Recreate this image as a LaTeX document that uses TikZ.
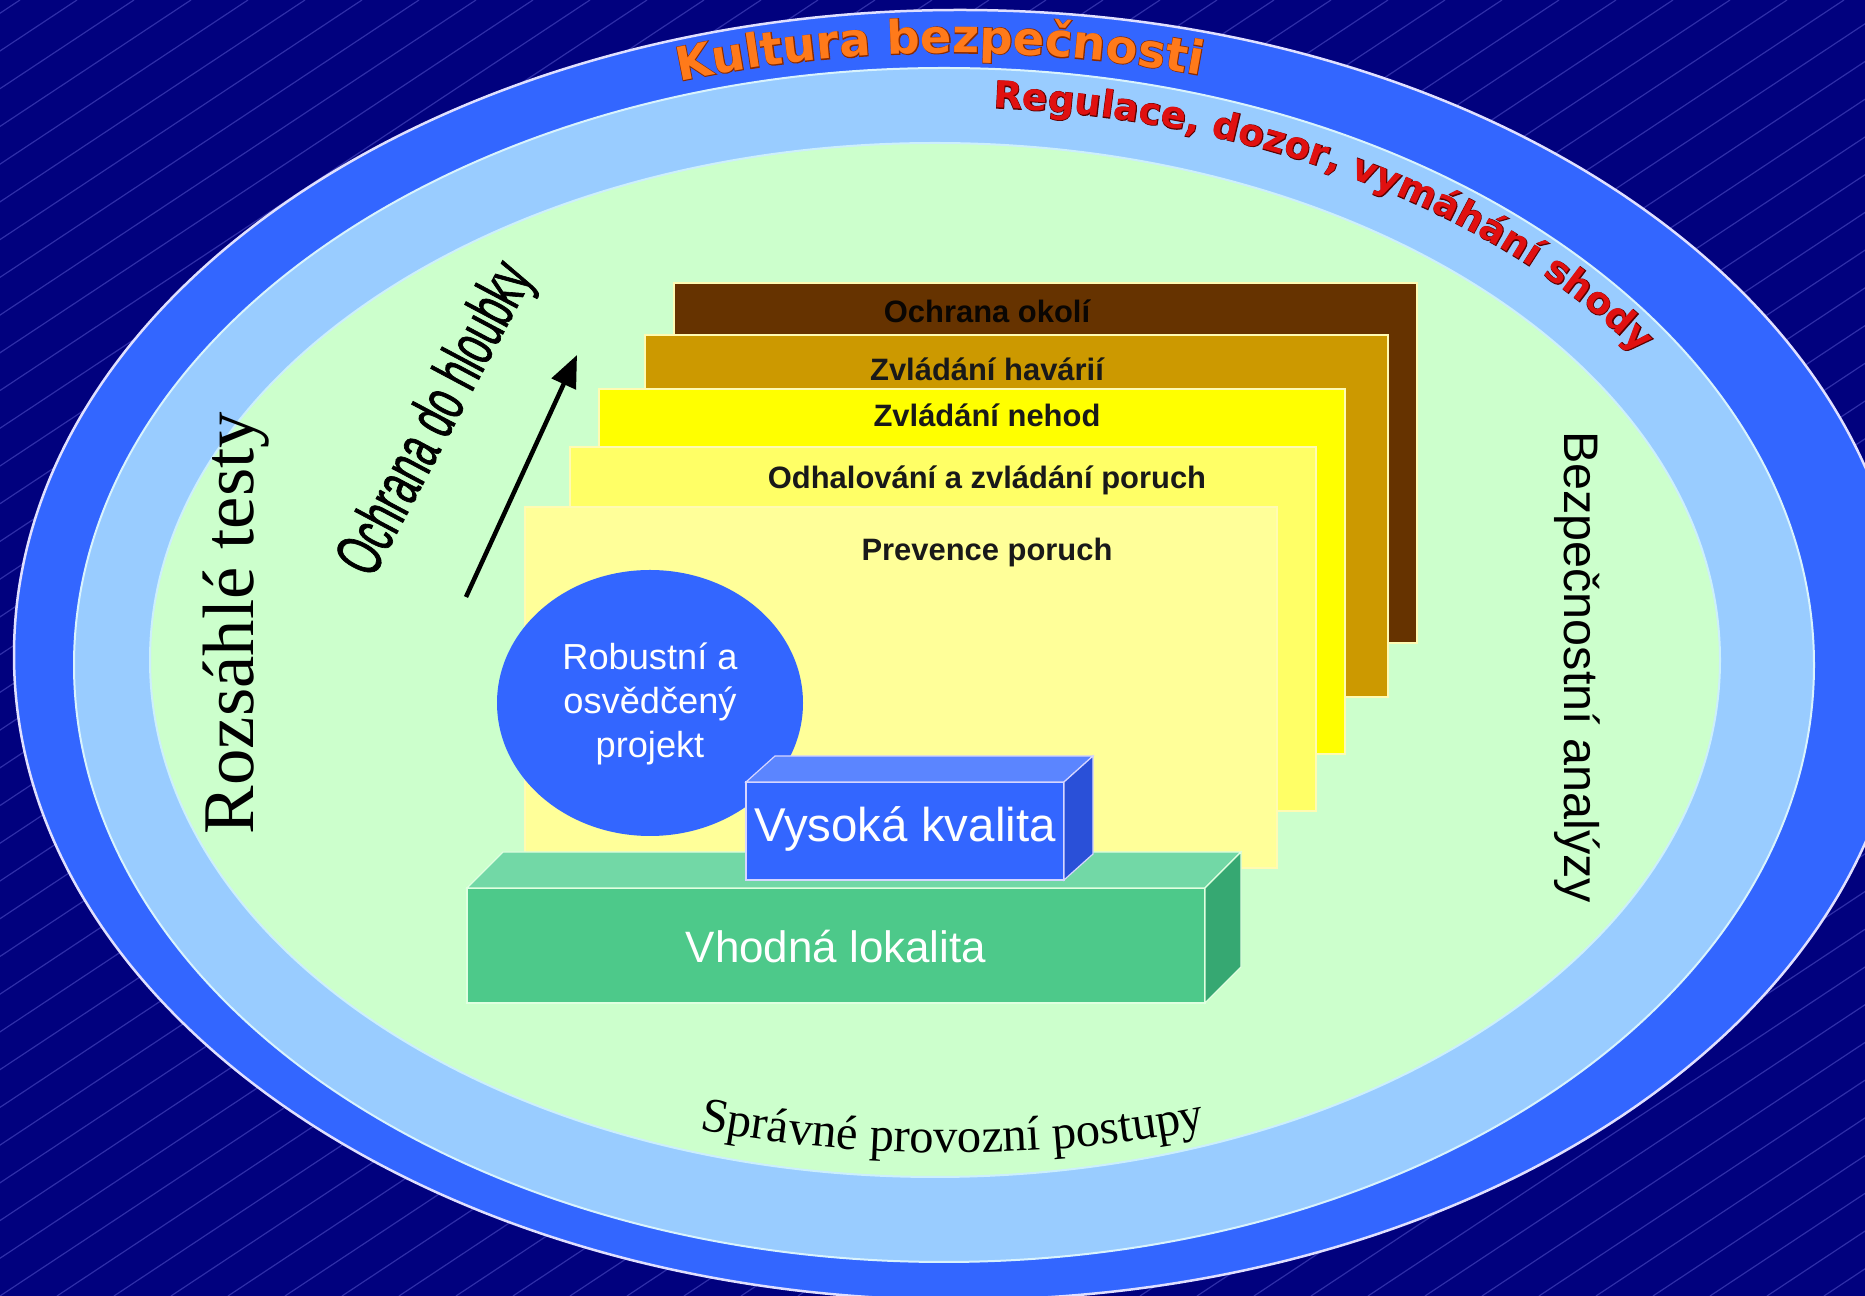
\documentclass[tikz,border=0pt]{standalone}
\usepackage{fontspec}
\setmainfont{Liberation Serif}
\newfontfamily\arialf{Liberation Sans}
\newfontfamily\narrowf[FakeStretch=0.58,FakeBold=1]{Liberation Sans}
\newfontfamily\heavyf{DejaVu Sans}
\newfontfamily\heavyoutf[FakeBold=3]{DejaVu Sans}
\usetikzlibrary{arrows.meta,decorations.text}

\definecolor{bgNavy}{HTML}{01017E}
\definecolor{bgLine}{HTML}{2F2FA8}
\definecolor{outerBlue}{HTML}{3366FF}
\definecolor{lightBlue}{HTML}{99CCFF}
\definecolor{greenBg}{HTML}{CCFFCC}
\definecolor{brownL}{HTML}{663300}
\definecolor{goldL}{HTML}{CC9900}
\definecolor{yellowL}{HTML}{FFFF00}
\definecolor{lyellowL}{HTML}{FFFF66}
\definecolor{paleL}{HTML}{FFFF99}
\definecolor{boxFront}{HTML}{3366FF}
\definecolor{boxTop}{HTML}{5B85FF}
\definecolor{boxSide}{HTML}{2A50D8}
\definecolor{slabFront}{HTML}{4DC98A}
\definecolor{slabTop}{HTML}{72D8A6}
\definecolor{slabSide}{HTML}{36A872}
\definecolor{kultOrange}{HTML}{FF7A1A}
\definecolor{kultDark}{HTML}{8A2A00}
\definecolor{regRed}{HTML}{E01010}
\definecolor{regDark}{HTML}{5A0000}

\tikzset{
  bgline/.style={draw=bgLine, line width=0.12mm},
  layerbox/.style={draw=white!70!yellow, line width=0.15mm},
  lbl/.style={font=\arialf\bfseries\fontsize{8.8}{10}\selectfont, anchor=base, inner sep=0pt, text=black!90},
  whitetxt/.style={text=white, inner sep=0pt},
  arrowline/.style={line width=0.45mm, -{Triangle[length=3.2mm,width=2.6mm]}},
}

\begin{document}
\begin{tikzpicture}[x=0.1mm,y=-0.1mm]
\useasboundingbox (0,0) rectangle (1865,1296);
% background
\fill[bgNavy] (0,0) rectangle (1865,1296);
\begin{scope}
  \clip (0,0) rectangle (1865,1296);
  \foreach \i in {-36,...,34} {
    \draw[bgline] (\i*57,1296) -- ++(1958,-1296);
  }
\end{scope}

% ellipses
\fill[outerBlue, draw=white!70!blue!40, line width=0.25mm] (960,655) ellipse [x radius=946, y radius=645];
\fill[lightBlue, draw=white!85!cyan, line width=0.2mm] (944,665) ellipse [x radius=870, y radius=597];
\fill[greenBg, draw=white!80!cyan, line width=0.2mm] (935,660) ellipse [x radius=785, y radius=517];

% layers
\fill[brownL, layerbox] (674,283) rectangle (1417,643);
\fill[goldL, layerbox] (645,335) rectangle (1388,697);
\fill[yellowL, layerbox] (599,389) rectangle (1345,754);
\fill[lyellowL, layerbox] (570,447) rectangle (1316,811);
\fill[paleL, layerbox] (525,507) rectangle (1277,868);

\node[lbl, text=black!95!brown] (t1) at (987,323) {Ochrana okolí};
\node[lbl] (t2) at (987,381) {Zvládání havárií};
\node[lbl] (t3) at (987,427) {Zvládání nehod};
\node[lbl] (t4) at (987,489) {Odhalování a zvládání poruch};
\node[lbl] (t5) at (987,561) {Prevence poruch};

% circle
\fill[boxFront] (650,703) ellipse [x radius=153, y radius=133];
\node[whitetxt, align=center, font=\arialf\fontsize{10.3}{12.5}\selectfont] (circ) at (650,704) {Robustní a\\osvědčený\\projekt};

% slab
\fill[slabFront, draw=white!60!green!30, line width=0.12mm] (467,888) rectangle (1205,1003);
\fill[slabTop, draw=white!60!green!30, line width=0.12mm] (467,888) -- (503,852) -- (1241,852) -- (1205,888) -- cycle;
\fill[slabSide, draw=white!60!green!30, line width=0.12mm] (1205,888) -- (1241,852) -- (1241,967) -- (1205,1003) -- cycle;
\node[whitetxt, anchor=base, font=\arialf\fontsize{12.5}{14}\selectfont] (vl) at (836,963) {Vhodná lokalita};

% box
\fill[boxFront, draw=white!60!blue!40, line width=0.12mm] (746,782) rectangle (1064,880);
\fill[boxTop, draw=white!60!blue!40, line width=0.12mm] (746,782) -- (775,756) -- (1093,756) -- (1064,782) -- cycle;
\fill[boxSide, draw=white!60!blue!40, line width=0.12mm] (1064,782) -- (1093,756) -- (1093,854) -- (1064,880) -- cycle;
\node[whitetxt, anchor=base, font=\arialf\fontsize{13.5}{15}\selectfont] (vk) at (905,842) {Vysoká kvalita};

% side texts
\node[rotate=90, inner sep=0pt, font=\fontsize{20.7}{24}\selectfont] (rt) at (236,623) {Rozsáhlé testy};
\node[rotate=-90, inner sep=0pt, font=\arialf\fontsize{13.8}{15}\selectfont] (ba) at (1577,667) {Bezpečnostní analýzy};
\node[rotate=62, inner sep=0pt, font=\narrowf\fontsize{18.8}{20}\selectfont] (odh) at (438,420) {Ochrana do hloubky};

% arrow
\coordinate (aS) at (466,597);
\coordinate (aE) at (577,355);
\draw[arrowline] (aS) -- (aE);

% curved texts
\path[decorate, decoration={text along path, text align=center,
  text={|\heavyoutf\bfseries\fontsize{13.2}{14}\selectfont\color{kultDark}|Kultura bezpečnosti}}]
  (644.8,89.3) arc[start angle=-110, end angle=-72, x radius=907, y radius=602];
\path[decorate, decoration={text along path, text align=center,
  text={|\heavyf\bfseries\fontsize{13.2}{14}\selectfont\color{kultOrange}|Kultura bezpečnosti}}]
  (644.8,89.3) arc[start angle=-110, end angle=-72, x radius=907, y radius=602];

\path[decorate, decoration={text along path, text align=left,
  text={|\heavyoutf\bfseries\fontsize{10.6}{12}\selectfont\color{regDark}|Regulace, dozor, vymáhání shody}}]
  (993.2,108) arc[start angle=-86.5, end angle=-15, x radius=838, y radius=555];
\path[decorate, decoration={text along path, text align=left,
  text={|\heavyf\bfseries\fontsize{10.6}{12}\selectfont\color{regRed}|Regulace, dozor, vymáhání shody}}]
  (993.2,108) arc[start angle=-86.5, end angle=-15, x radius=838, y radius=555];

\path[decorate, decoration={text along path, text align=center,
  text={|\fontsize{13.8}{15}\selectfont|Správné provozní postupy}}]
  (680,1125) .. controls (850,1162) and (1050,1162) .. (1225,1125);
\end{tikzpicture}
\end{document}
